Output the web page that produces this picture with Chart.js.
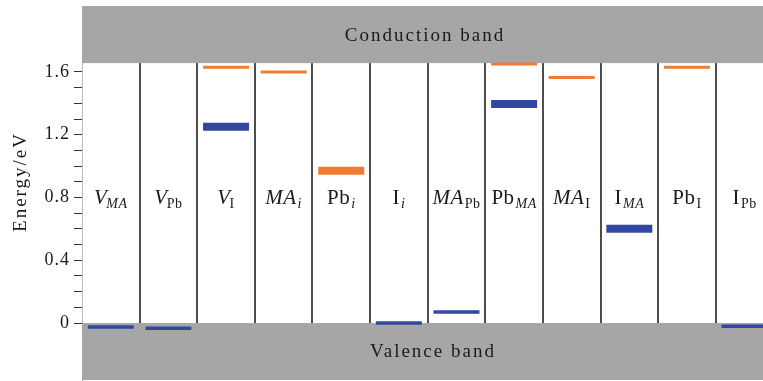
<!DOCTYPE html>
<html>
<head>
<meta charset="utf-8">
<script src="https://cdn.jsdelivr.net/npm/chart.js@4"></script>
<style>
  html, body { margin: 0; padding: 0; background: #fff; }
  #wrap { width: 763px; height: 381px; }
</style>
</head>
<body>
<div id="wrap"><canvas id="levels"></canvas></div>
<script>
// columns: defect name as "main_sub"
const defects = ['V_MA', 'V_Pb', 'V_I', 'MA_i', 'Pb_i', 'I_i', 'MA_Pb', 'Pb_MA', 'MA_I', 'I_MA', 'Pb_I', 'I_Pb'];

// transition levels in eV, null where a column has none
const orangeThin = [null, null, 1.63, 1.60, null, null, null, 1.65, 1.565, null, 1.63, null];
const orangeThick = [null, null, null, null, 0.97, null, null, null, null, null, null, null];
const blueThin = [-0.025, -0.033, null, null, null, 0.0, 0.07, null, null, null, null, -0.02];
const blueThick = [null, null, 1.25, null, null, null, null, 1.395, null, 0.60, null, null];

// band edges (eV)
const conductionMin = 1.656;
const valenceMax = 0;

const yTicks = [0, 0.1, 0.2, 0.3, 0.4, 0.5, 0.6, 0.7, 0.8, 0.9, 1.0, 1.1, 1.2, 1.3, 1.4, 1.5, 1.6];
const yLabels = [0, 0.4, 0.8, 1.2, 1.6];

const SERIF = "'Liberation Serif', 'Times New Roman', serif";
const italicParts = ['V', 'MA', 'i'];

function toPoints(arr) {
    return arr.map((v, i) => v === null ? null : { x: i + 0.5, y: v }).filter(p => p);
}

function levelSet(arr, color, width) {
    return {
        data: toPoints(arr),
        showLine: false,
        pointStyle: 'line',
        pointRadius: 23,
        pointHoverRadius: 23,
        pointBorderWidth: width,
        pointHoverBorderWidth: width,
        pointBorderColor: color,
        pointBackgroundColor: color
    };
}

const bandsPlugin = {
    id: 'bands',
    beforeDraw(chart) {
        // wider spacing to mimic the original serif font
        chart.ctx.letterSpacing = '1px';
    },
    beforeDatasetsDraw(chart) {
        const { ctx, chartArea: a, scales: { y } } = chart;
        const w = a.right - a.left;
        const cBot = y.getPixelForValue(conductionMin);
        const vTop = y.getPixelForValue(valenceMax);
        ctx.save();
        ctx.fillStyle = '#fff';
        ctx.fillRect(a.left, 0, w, a.top);
        ctx.fillStyle = '#a6a6a6';
        ctx.fillRect(a.left, a.top, w, cBot - a.top);
        ctx.fillRect(a.left, vTop, w, a.bottom - vTop);

        ctx.fillStyle = '#1a1a1a';
        ctx.font = '19px ' + SERIF;
        ctx.textAlign = 'center';
        ctx.textBaseline = 'middle';
        ctx.letterSpacing = '2px';
        ctx.fillText('Conduction band', 425, (a.top + cBot) / 2 + 1);
        ctx.fillText('Valence band', 433, (vTop + a.bottom) / 2 + 1);

        // axis title
        ctx.translate(21, (a.top + a.bottom) / 2 - 11);
        ctx.rotate(-Math.PI / 2);
        ctx.font = '19px ' + SERIF;
        ctx.letterSpacing = '2px';
        ctx.fillText('Energy/eV', 0, 0);
        ctx.restore();
    },
    afterDatasetsDraw(chart) {
        const { ctx, scales: { x, y } } = chart;
        const base = y.getPixelForValue(0.8) + 7;
        ctx.save();
        ctx.fillStyle = '#1a1a1a';
        ctx.textBaseline = 'alphabetic';
        ctx.textAlign = 'left';
        ctx.letterSpacing = '0.5px';
        defects.forEach((name, i) => {
            const [main, sub] = name.split('_');
            const mainFont = (italicParts.includes(main) ? 'italic ' : '') + '21px ' + SERIF;
            const subFont = (italicParts.includes(sub) ? 'italic ' : '') + '14px ' + SERIF;
            ctx.font = mainFont;
            const mw = ctx.measureText(main).width;
            ctx.font = subFont;
            const sw = ctx.measureText(sub).width;
            const gap = main === 'V' ? -1 : 1;
            let left = x.getPixelForValue(i + 0.5) - (mw + gap + sw) / 2;
            ctx.font = mainFont;
            ctx.fillText(main, left, base);
            ctx.font = subFont;
            ctx.fillText(sub, left + mw + gap, base + 4);
        });
        ctx.restore();
    }
};

new Chart(document.getElementById('levels'), {
    type: 'scatter',
    data: {
        datasets: [
            levelSet(orangeThin, '#ee7d31', 3),
            levelSet(orangeThick, '#ee7d31', 8),
            levelSet(blueThin, '#3447a0', 3.5),
            levelSet(blueThick, '#3447a0', 8)
        ]
    },
    options: {
        responsive: true,
        maintainAspectRatio: false,
        animation: false,
        events: [],
        layout: { autoPadding: false, padding: { top: 6, bottom: 1, left: 0, right: 0 } },
        plugins: {
            legend: { display: false },
            tooltip: { enabled: false }
        },
        scales: {
            x: {
                type: 'linear',
                min: 0,
                max: 11.82,
                afterBuildTicks: s => { s.ticks = defects.slice(1).map((d, i) => ({ value: i + 1 })); },
                afterFit: s => { s.height = 0; s.paddingLeft = 0; s.paddingRight = 0; },
                ticks: { display: false },
                border: { display: false },
                grid: { color: '#4d4d4d', lineWidth: 2, drawTicks: false }
            },
            y: {
                min: -0.363,
                max: 2.02,
                afterBuildTicks: s => { s.ticks = yTicks.map(v => ({ value: v })); },
                afterFit: s => { s.width = 82; s.paddingTop = 0; s.paddingBottom = 0; },
                border: { display: true, color: '#bbbbbb', width: 1 },
                grid: { drawOnChartArea: false, tickLength: 8, color: '#333', lineWidth: 1 },
                ticks: {
                    autoSkip: false,
                    padding: 4,
                    color: '#1a1a1a',
                    font: { family: SERIF, size: 18 },
                    callback: v => yLabels.some(t => Math.abs(t - v) < 1e-6) ? String(v === 0 ? 0 : v.toFixed(1)) : ''
                }
            }
        }
    },
    plugins: [bandsPlugin]
});
</script>
</body>
</html>
